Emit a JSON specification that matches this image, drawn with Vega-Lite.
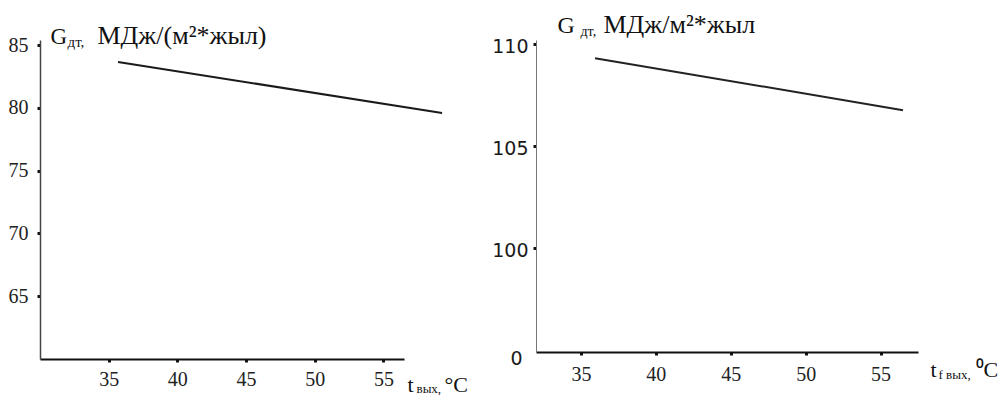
{
  "$schema": "https://vega.github.io/schema/vega-lite/v6.json",
  "background": "white",
  "padding": {"left": 8, "top": 11, "right": 0, "bottom": 0},
  "spacing": 132,
  "bounds": "flush",
  "config": {"view": {"stroke": null}, "axis": {"grid": false, "labelFlush": false, "labelOverlap": false, "titleLimit": 1000, "titleFontWeight": "normal", "titleAngle": 0, "titleAlign": "left", "titleBaseline": "alphabetic", "titleFont": "Liberation Serif", "titleColor": "#111"}},
  "datasets": {
    "left": [{"t": 35.68, "g": 83.65}, {"t": 59.27, "g": 79.59}],
    "right": [{"t": 35.94, "g": 109.31}, {"t": 56.5, "g": 106.76}]
  },
  "hconcat": [
    {
      "width": 364,
      "height": 319,
      "data": {"name": "left"},
      "resolve": {"axis": {"x": "independent", "y": "independent"}},
      "layer": [
        {
          "mark": {"type": "line", "color": "#1a1a1a", "strokeWidth": 2},
          "encoding": {
            "x": {"field": "t", "type": "quantitative", "scale": {"domain": [30, 56.5], "nice": false, "zero": false},
              "axis": {"orient": "bottom", "values": [35, 40, 45, 50, 55], "domainColor": "#111", "domainWidth": 2, "tickColor": "#111", "tickSize": 3, "tickWidth": 3, "labelFont": "Liberation Serif", "labelFontSize": 20, "labelColor": "#222", "labelPadding": 7,
                "title": "t", "titleFontSize": 22, "titleX": 367, "titleY": 32}},
            "y": {"field": "g", "type": "quantitative", "scale": {"domain": [60, 85.4], "nice": false, "zero": false},
              "axis": {"orient": "left", "values": [65, 70, 75, 80, 85], "domainColor": "#444", "domainWidth": 1.5, "tickColor": "#111", "tickSize": 3, "tickWidth": 3, "labelFont": "Liberation Serif", "labelFontSize": 20, "labelColor": "#222", "labelPadding": 9,
                "title": "G", "titleFontSize": 23, "titleX": 10, "titleY": 3}}
          }
        },
        {
          "mark": {"type": "line", "opacity": 0},
          "encoding": {
            "x": {"field": "t", "type": "quantitative",
              "axis": {"orient": "bottom", "labels": false, "ticks": false, "domain": false, "title": "вых,", "titleFontSize": 13, "titleX": 376, "titleY": 33}},
            "y": {"field": "g", "type": "quantitative",
              "axis": {"orient": "left", "labels": false, "ticks": false, "domain": false, "title": "дт,", "titleFontSize": 15, "titleX": 27, "titleY": 6}}
          }
        },
        {
          "mark": {"type": "line", "opacity": 0},
          "encoding": {
            "x": {"field": "t", "type": "quantitative",
              "axis": {"orient": "bottom", "labels": false, "ticks": false, "domain": false, "title": "°C", "titleFontSize": 22, "titleX": 404, "titleY": 32}},
            "y": {"field": "g", "type": "quantitative",
              "axis": {"orient": "left", "labels": false, "ticks": false, "domain": false, "title": "МДж/(м²*жыл)", "titleFontSize": 26, "titleX": 57, "titleY": 3}}
          }
        }
      ]
    },
    {
      "width": 382,
      "height": 312,
      "data": {"name": "right"},
      "resolve": {"axis": {"x": "independent", "y": "independent"}},
      "layer": [
        {
          "mark": {"type": "line", "color": "#222", "strokeWidth": 2},
          "encoding": {
            "x": {"field": "t", "type": "quantitative", "scale": {"domain": [32, 57.5], "nice": false, "zero": false},
              "axis": {"orient": "bottom", "values": [35, 40, 45, 50, 55], "domainColor": "#111", "domainWidth": 2, "tickColor": "#111", "tickSize": 3, "tickWidth": 3, "labelFont": "Liberation Serif", "labelFontSize": 20, "labelColor": "#222", "labelPadding": 9,
                "title": "t", "titleFontSize": 22, "titleX": 394, "titleY": 24}},
            "y": {"field": "g", "type": "quantitative", "scale": {"domain": [94.9, 110.2], "nice": false, "zero": false},
              "axis": {"orient": "left", "values": [100, 105, 110], "domainColor": "#777", "domainWidth": 1, "tickColor": "#111", "tickSize": 3, "tickWidth": 3, "labelFont": "DejaVu Sans", "labelFontSize": 19, "labelColor": "#1a1a1a", "labelPadding": 5, "labelOffset": 2,
                "title": "G", "titleFontSize": 24, "titleX": 21, "titleY": -8}}
          }
        },
        {
          "mark": {"type": "line", "opacity": 0},
          "encoding": {
            "x": {"field": "t", "type": "quantitative",
              "axis": {"orient": "bottom", "labels": false, "ticks": false, "domain": false, "title": "f вых,", "titleFontSize": 13, "titleX": 402, "titleY": 26}},
            "y": {"field": "g", "type": "quantitative",
              "axis": {"orient": "left", "values": [94.9], "labelExpr": "'0'", "labelFont": "DejaVu Sans", "labelFontSize": 19, "labelColor": "#1a1a1a", "labelBaseline": "top", "labelOffset": -3, "labelPadding": 14, "ticks": false, "domain": false,
                "title": "дт,", "titleFontSize": 14, "titleX": 44, "titleY": -5}}
          }
        },
        {
          "mark": {"type": "line", "opacity": 0},
          "encoding": {
            "x": {"field": "t", "type": "quantitative",
              "axis": {"orient": "bottom", "labels": false, "ticks": false, "domain": false, "title": "⁰C", "titleFontSize": 22, "titleX": 439, "titleY": 24}},
            "y": {"field": "g", "type": "quantitative",
              "axis": {"orient": "left", "labels": false, "ticks": false, "domain": false, "title": "МДж/м²*жыл", "titleFontSize": 26, "titleX": 67, "titleY": -8}}
          }
        }
      ]
    }
  ]
}
